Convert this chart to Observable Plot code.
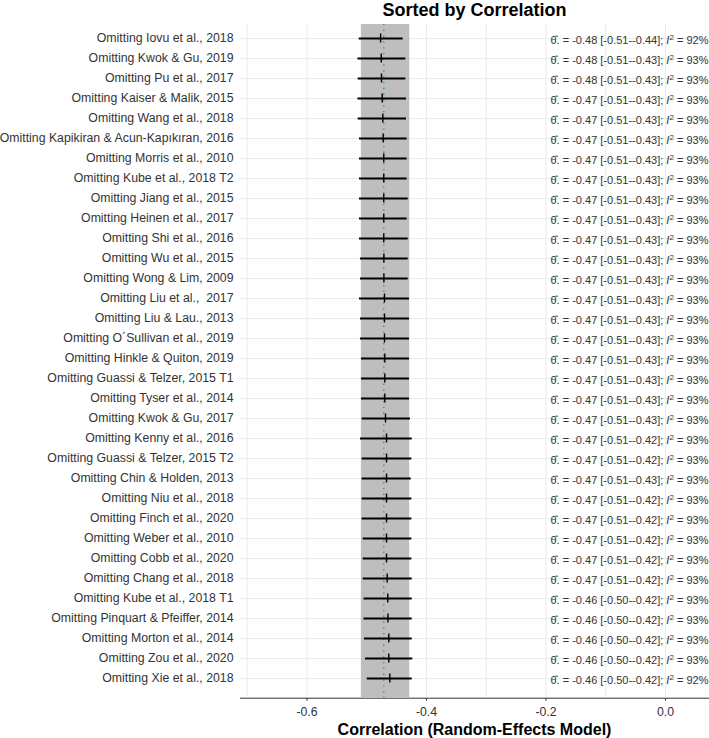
<!DOCTYPE html>
<html>
<head>
<meta charset="utf-8">
<script src="https://cdn.jsdelivr.net/npm/d3@7"></script>
<script src="https://cdn.jsdelivr.net/npm/@observablehq/plot@0.6"></script>
<style>
  html, body { margin: 0; padding: 0; background: white; }
  #chart { width: 709px; height: 738px; overflow: hidden; }
</style>
</head>
<body>
<div id="chart"></div>
<script>
const studies = [
  "Omitting Iovu et al., 2018",
  "Omitting Kwok & Gu, 2019",
  "Omitting Pu et al., 2017",
  "Omitting Kaiser & Malik, 2015",
  "Omitting Wang et al., 2018",
  "Omitting Kapikiran & Acun-Kapıkıran, 2016",
  "Omitting Morris et al., 2010",
  "Omitting Kube et al., 2018 T2",
  "Omitting Jiang et al., 2015",
  "Omitting Heinen et al., 2017",
  "Omitting Shi et al., 2016",
  "Omitting Wu et al., 2015",
  "Omitting Wong & Lim, 2009",
  "Omitting Liu et al.,  2017",
  "Omitting Liu & Lau., 2013",
  "Omitting O´Sullivan et al., 2019",
  "Omitting Hinkle & Quiton, 2019",
  "Omitting Guassi & Telzer, 2015 T1",
  "Omitting Tyser et al., 2014",
  "Omitting Kwok & Gu, 2017",
  "Omitting Kenny et al., 2016",
  "Omitting Guassi & Telzer, 2015 T2",
  "Omitting Chin & Holden, 2013",
  "Omitting Niu et al., 2018",
  "Omitting Finch et al., 2020",
  "Omitting Weber et al., 2010",
  "Omitting Cobb et al., 2020",
  "Omitting Chang et al., 2018",
  "Omitting Kube et al., 2018 T1",
  "Omitting Pinquart & Pfeiffer, 2014",
  "Omitting Morton et al., 2014",
  "Omitting Zou et al., 2020",
  "Omitting Xie et al., 2018"
];
const estimates = [
  -0.4768, -0.4757, -0.4753, -0.4741, -0.4731, -0.4725, -0.4715, -0.4715,
  -0.4715, -0.4715, -0.4715, -0.4713, -0.4713, -0.4703, -0.4703, -0.4703,
  -0.4698, -0.4698, -0.4698, -0.4686, -0.4669, -0.4669, -0.4669, -0.4669,
  -0.4669, -0.4669, -0.4669, -0.4658, -0.4648, -0.4645, -0.4631, -0.4631,
  -0.4614
];
const lower = [
  -0.5126, -0.5147, -0.5143, -0.5147, -0.5143, -0.5121, -0.5121, -0.5121,
  -0.5121, -0.5121, -0.5121, -0.5105, -0.5105, -0.5121, -0.5105, -0.5105,
  -0.5088, -0.5088, -0.5088, -0.5076, -0.5105, -0.5076, -0.5076, -0.5076,
  -0.5076, -0.5059, -0.5059, -0.5059, -0.5046, -0.5046, -0.5038, -0.5021,
  -0.4992
];
const upper = [
  -0.4390, -0.4345, -0.4345, -0.4335, -0.4335, -0.4323, -0.4323, -0.4323,
  -0.4306, -0.4323, -0.4306, -0.4306, -0.4306, -0.4285, -0.4285, -0.4285,
  -0.4285, -0.4285, -0.4285, -0.4268, -0.4239, -0.4245, -0.4255, -0.4245,
  -0.4245, -0.4245, -0.4245, -0.4239, -0.4239, -0.4239, -0.4239, -0.4229,
  -0.4239
];
const i2 = [
  92, 93, 93, 93, 93, 93, 93, 93, 93, 93, 93, 93, 93, 93, 93, 93, 93,
  93, 93, 93, 93, 93, 93, 93, 93, 93, 93, 93, 93, 93, 93, 93, 92
];
const overallLower = -0.509;
const overallUpper = -0.428;
const overallEstimate = -0.4715;
const gridTicks = [-0.7, -0.6, -0.5, -0.4, -0.3, -0.2, -0.1, 0.0];
const axisTicks = [-0.6, -0.4, -0.2, 0.0];
const annotX = -0.1925;
const title = "Sorted by Correlation";
const xTitle = "Correlation (Random-Effects Model)";

const f2 = v => v.toFixed(2);
const data = studies.map((s, i) => ({
  study: s, est: estimates[i], lo: lower[i], hi: upper[i], i2: i2[i],
  label: `θ\u0302. = ${f2(estimates[i])} [${f2(lower[i])}-${f2(upper[i])}]; I2 = ${i2[i]}%`
}));

const H = 738;
const chart = Plot.plot({
  width: 709,
  height: H,
  marginTop: 24,
  marginBottom: 40.3,
  marginLeft: 240,
  marginRight: 1,
  style: {fontFamily: "'Liberation Sans', Arial, sans-serif", fontSize: "12.3px", background: "white", color: "#333333", overflow: "visible"},
  x: {domain: [-0.7113, 0.072], ticks: axisTicks, tickFormat: d => d.toFixed(1), tickSize: 3, tickPadding: 6, line: true, label: null},
  y: {type: "band", domain: studies, range: [26.66, 689.36], padding: 0, tickSize: 0, tickPadding: 7, label: null},
  marks: [
    Plot.ruleX(gridTicks, {x: d => d, stroke: "#ebebeb", strokeWidth: 1}),
    Plot.ruleY(studies, {y: d => d, stroke: "#ebebeb", strokeWidth: 1}),
    Plot.rect([0], {x1: () => overallLower, x2: () => overallUpper, fill: "#bebebe"}),
    Plot.ruleX([overallEstimate], {x: d => d, stroke: "#3a9a3a", strokeWidth: 1.3, strokeDasharray: "1.3,4.5"}),
    Plot.ruleY(data, {y: "study", x1: "lo", x2: "hi", stroke: "black", strokeWidth: 2}),
    Plot.tickX(data, {x: "est", y: "study", stroke: "black", strokeWidth: 1.4, insetTop: 5.5, insetBottom: 5.5}),
    Plot.text(data, {x: () => annotX, y: "study", text: "label", textAnchor: "start", fontSize: 11, fill: "#333333", dy: 2}),
    Plot.text([title], {frameAnchor: "top", lineAnchor: "middle", dy: -14.2, fontSize: 18, fontWeight: "bold", fill: "black"}),
    Plot.text([xTitle], {frameAnchor: "bottom", lineAnchor: "middle", dy: 31.2, fontSize: 16, fontWeight: "bold", fill: "black"})
  ]
});

// Render the I² part with italic I and superscript 2
chart.querySelectorAll("text").forEach(t => {
  const s = t.textContent;
  if (s.startsWith("θ") && s.includes("; I2 = ")) {
    const [a, b] = s.split("; I2 = ");
    while (t.firstChild) t.removeChild(t.firstChild);
    const ns = "http://www.w3.org/2000/svg";
    const mk = (txt, attrs) => {
      const ts = document.createElementNS(ns, "tspan");
      ts.textContent = txt;
      for (const k in attrs) ts.setAttribute(k, attrs[k]);
      t.appendChild(ts);
    };
    mk(a + "; ", {});
    mk("I", {"font-style": "italic"});
    mk("2", {"font-size": "8", dy: "-4"});
    mk(" = " + b, {dy: "4"});
  }
});
document.getElementById("chart").appendChild(chart);
</script>
</body>
</html>
